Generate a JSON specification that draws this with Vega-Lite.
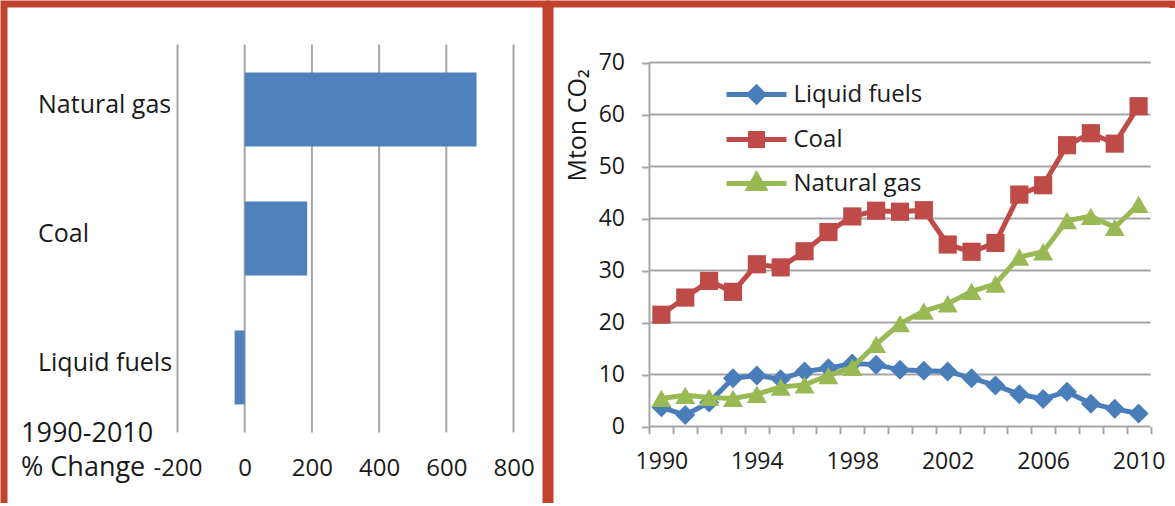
{
  "$schema": "https://vega.github.io/schema/vega-lite/v6.json",
  "padding": 0,
  "background": "white",
  "spacing": -4,
  "resolve": {
    "scale": {"fill": "independent", "stroke": "independent", "shape": "independent"},
    "legend": {"fill": "independent", "stroke": "independent", "shape": "independent"}
  },
  "datasets": {
    "change": [
      {"fuel": "Natural gas", "change": 690},
      {"fuel": "Coal", "change": 186},
      {"fuel": "Liquid fuels", "change": -30}
    ],
    "pctGrid": [{"pct": -200}, {"pct": 0}, {"pct": 200}, {"pct": 400}, {"pct": 600}, {"pct": 800}],
    "mtGrid": [{"v": 0}, {"v": 10}, {"v": 20}, {"v": 30}, {"v": 40}, {"v": 50}, {"v": 60}, {"v": 70}],
    "co2": [
      {"year": 1990, "fuel": "Liquid fuels", "value": 3.7}, {"year": 1990, "fuel": "Coal", "value": 21.5}, {"year": 1990, "fuel": "Natural gas", "value": 5.4},
      {"year": 1991, "fuel": "Liquid fuels", "value": 2.2}, {"year": 1991, "fuel": "Coal", "value": 24.8}, {"year": 1991, "fuel": "Natural gas", "value": 6.0},
      {"year": 1992, "fuel": "Liquid fuels", "value": 4.6}, {"year": 1992, "fuel": "Coal", "value": 28.0}, {"year": 1992, "fuel": "Natural gas", "value": 5.6},
      {"year": 1993, "fuel": "Liquid fuels", "value": 9.3}, {"year": 1993, "fuel": "Coal", "value": 25.9}, {"year": 1993, "fuel": "Natural gas", "value": 5.4},
      {"year": 1994, "fuel": "Liquid fuels", "value": 9.8}, {"year": 1994, "fuel": "Coal", "value": 31.2}, {"year": 1994, "fuel": "Natural gas", "value": 6.2},
      {"year": 1995, "fuel": "Liquid fuels", "value": 9.1}, {"year": 1995, "fuel": "Coal", "value": 30.6}, {"year": 1995, "fuel": "Natural gas", "value": 7.6},
      {"year": 1996, "fuel": "Liquid fuels", "value": 10.6}, {"year": 1996, "fuel": "Coal", "value": 33.7}, {"year": 1996, "fuel": "Natural gas", "value": 8.0},
      {"year": 1997, "fuel": "Liquid fuels", "value": 11.2}, {"year": 1997, "fuel": "Coal", "value": 37.4}, {"year": 1997, "fuel": "Natural gas", "value": 9.8},
      {"year": 1998, "fuel": "Liquid fuels", "value": 12.1}, {"year": 1998, "fuel": "Coal", "value": 40.4}, {"year": 1998, "fuel": "Natural gas", "value": 11.4},
      {"year": 1999, "fuel": "Liquid fuels", "value": 11.9}, {"year": 1999, "fuel": "Coal", "value": 41.5}, {"year": 1999, "fuel": "Natural gas", "value": 15.8},
      {"year": 2000, "fuel": "Liquid fuels", "value": 10.9}, {"year": 2000, "fuel": "Coal", "value": 41.3}, {"year": 2000, "fuel": "Natural gas", "value": 19.8},
      {"year": 2001, "fuel": "Liquid fuels", "value": 10.7}, {"year": 2001, "fuel": "Coal", "value": 41.6}, {"year": 2001, "fuel": "Natural gas", "value": 22.2},
      {"year": 2002, "fuel": "Liquid fuels", "value": 10.6}, {"year": 2002, "fuel": "Coal", "value": 35.0}, {"year": 2002, "fuel": "Natural gas", "value": 23.6},
      {"year": 2003, "fuel": "Liquid fuels", "value": 9.3}, {"year": 2003, "fuel": "Coal", "value": 33.6}, {"year": 2003, "fuel": "Natural gas", "value": 26.0},
      {"year": 2004, "fuel": "Liquid fuels", "value": 7.9}, {"year": 2004, "fuel": "Coal", "value": 35.3}, {"year": 2004, "fuel": "Natural gas", "value": 27.4},
      {"year": 2005, "fuel": "Liquid fuels", "value": 6.2}, {"year": 2005, "fuel": "Coal", "value": 44.6}, {"year": 2005, "fuel": "Natural gas", "value": 32.6},
      {"year": 2006, "fuel": "Liquid fuels", "value": 5.3}, {"year": 2006, "fuel": "Coal", "value": 46.4}, {"year": 2006, "fuel": "Natural gas", "value": 33.6},
      {"year": 2007, "fuel": "Liquid fuels", "value": 6.7}, {"year": 2007, "fuel": "Coal", "value": 54.1}, {"year": 2007, "fuel": "Natural gas", "value": 39.6},
      {"year": 2008, "fuel": "Liquid fuels", "value": 4.4}, {"year": 2008, "fuel": "Coal", "value": 56.4}, {"year": 2008, "fuel": "Natural gas", "value": 40.4},
      {"year": 2009, "fuel": "Liquid fuels", "value": 3.4}, {"year": 2009, "fuel": "Coal", "value": 54.4}, {"year": 2009, "fuel": "Natural gas", "value": 38.3},
      {"year": 2010, "fuel": "Liquid fuels", "value": 2.5}, {"year": 2010, "fuel": "Coal", "value": 61.6}, {"year": 2010, "fuel": "Natural gas", "value": 42.7}
    ]
  },
  "config": {
    "font": "Open Sans",
    "view": {"stroke": null},
    "axis": {"labelColor": "#1a1a1a", "titleColor": "#1a1a1a", "labelFont": "Open Sans", "titleFont": "Open Sans"},
    "legend": {
      "padding": 0, "symbolOpacity": 1,
      "symbolSize": 2500, "symbolStrokeWidth": 5, "labelFont": "Open Sans", "labelFontSize": 24,
      "labelColor": "#1a1a1a", "rowPadding": -22.5, "labelOffset": 9.5, "labelLimit": 400
    }
  },
  "hconcat": [
    {
      "width": 542,
      "height": 499,
      "view": {"stroke": "#C1432D", "strokeWidth": 7, "strokeDash": [1041, 542, 510], "fill": "white"},
      "layer": [
        {
          "data": {"name": "pctGrid"},
          "mark": {"type": "rule", "color": "#A6A6A6", "strokeWidth": 2},
          "encoding": {
            "x": {
              "field": "pct", "type": "quantitative",
              "scale": {"domain": [-716.4, 896.7], "nice": false, "zero": false},
              "axis": {
                "orient": "bottom", "offset": -70.5, "values": [-200, 0, 200, 400, 600, 800],
                "grid": false, "domain": false, "ticks": false, "tickSize": 0,
                "labelPadding": 43, "labelBaseline": "alphabetic", "labelFontSize": 24,
                "labelFlush": false, "labelOverlap": false, "labelExpr": "replace(datum.label, '−', '-')",
                "title": ["1990-2010", "% Change"], "titleX": 16.5, "titleY": 9,
                "titleAlign": "left", "titleAnchor": "start", "titleBaseline": "alphabetic",
                "titleFontSize": 27, "titleFontWeight": "normal", "titleLineHeight": 34
              }
            },
            "y": {"datum": 0, "type": "quantitative", "scale": {"domain": [-0.313, 3.545], "reverse": true, "nice": false, "zero": false}, "axis": null},
            "y2": {"datum": 3}
          }
        },
        {
          "data": {"name": "change"},
          "mark": {"type": "bar", "color": "#4F81BD"},
          "encoding": {
            "x": {
              "field": "change", "type": "quantitative",
              "axis": {
                "orient": "bottom", "offset": -70.5, "values": [-200, 0, 200, 400, 600, 800],
                "grid": false, "domain": false, "ticks": false, "tickSize": 0,
                "labelPadding": 43, "labelBaseline": "alphabetic", "labelFontSize": 24,
                "labelFlush": false, "labelOverlap": false, "labelExpr": "replace(datum.label, '−', '-')",
                "title": ["1990-2010", "% Change"], "titleX": 16.5, "titleY": 9,
                "titleAlign": "left", "titleAnchor": "start", "titleBaseline": "alphabetic",
                "titleFontSize": 27, "titleFontWeight": "normal", "titleLineHeight": 34
              }
            },
            "y": {
              "field": "fuel", "type": "nominal", "sort": ["Natural gas", "Coal", "Liquid fuels"],
              "scale": {"paddingInner": 0.4264, "paddingOuter": 0.6473, "align": 0.41},
              "axis": {
                "orient": "left", "offset": -33.5, "domain": false, "ticks": false, "tickSize": 0,
                "labelPadding": 0, "labelAlign": "left", "labelBaseline": "alphabetic", "labelOffset": 4,
                "labelFontSize": 25, "labelLimit": 300, "title": null
              }
            }
          }
        }
      ],
      "resolve": {"scale": {"y": "independent"}}
    },
    {
      "width": 623,
      "height": 499,
      "view": {"stroke": "#C1432D", "strokeWidth": 7, "strokeDash": [627, 1118, 510], "fill": "white"},
      "layer": [
        {
          "data": {"name": "mtGrid"},
          "mark": {"type": "rule", "color": "#A6A6A6", "strokeWidth": 2},
          "encoding": {
            "y": {
              "field": "v", "type": "quantitative",
              "scale": {"domain": [-14.71, 81.25], "nice": false, "zero": false},
              "axis": {
                "orient": "left", "offset": -99.5, "values": [0, 10, 20, 30, 40, 50, 60, 70],
                "domain": false, "grid": false, "ticks": true, "tickSize": 8, "tickColor": "#A6A6A6", "tickWidth": 2,
                "labelPadding": 17, "labelFontSize": 23,
                "title": "Mton CO₂", "titleFontSize": 25, "titleFontWeight": "normal",
                "titleX": -64, "titleY": 121, "titleAngle": -90, "titleAlign": "center", "titleBaseline": "alphabetic"
              }
            },
            "x": {
              "datum": 1989.5, "type": "quantitative",
              "scale": {"domain": [1985.331, 2011.442], "nice": false, "zero": false},
              "axis": {
                "orient": "bottom", "offset": -76.5,
                "values": [1989.5, 1990.5, 1991.5, 1992.5, 1993.5, 1994.5, 1995.5, 1996.5, 1997.5, 1998.5, 1999.5, 2000.5, 2001.5, 2002.5, 2003.5, 2004.5, 2005.5, 2006.5, 2007.5, 2008.5, 2009.5, 2010.5],
                "labels": false, "domain": false, "grid": false, "ticks": true, "tickSize": 7,
                "tickColor": "#A6A6A6", "tickWidth": 2, "title": null
              }
            },
            "x2": {"datum": 2010.5}
          }
        },
        {
          "data": {"values": [{}]},
          "mark": {"type": "rule", "color": "#A6A6A6", "strokeWidth": 2},
          "encoding": {
            "x": {"datum": 1989.5, "type": "quantitative", "axis": null},
            "y": {
              "datum": 0, "type": "quantitative",
              "axis": {
                "orient": "left", "offset": -99.5, "values": [0, 10, 20, 30, 40, 50, 60, 70],
                "domain": false, "grid": false, "ticks": true, "tickSize": 8, "tickColor": "#A6A6A6", "tickWidth": 2,
                "labelPadding": 17, "labelFontSize": 23,
                "title": "Mton CO₂", "titleFontSize": 25, "titleFontWeight": "normal",
                "titleX": -64, "titleY": 121, "titleAngle": -90, "titleAlign": "center", "titleBaseline": "alphabetic"
              }
            },
            "y2": {"datum": 70}
          }
        },
        {
          "data": {"name": "co2"},
          "transform": [{"filter": {"field": "fuel", "equal": "Liquid fuels"}}],
          "mark": {"type": "line", "color": "#4A7EBB", "strokeWidth": 5, "point": {"shape": "diamond", "size": 400, "filled": true, "color": "#4A7EBB"}},
          "encoding": {
            "x": {
              "field": "year", "type": "quantitative",
              "axis": {
                "orient": "bottom", "offset": -76.5, "values": [1990, 1994, 1998, 2002, 2006, 2010], "format": "d",
                "ticks": false, "tickSize": 0, "domain": false, "grid": false,
                "labelPadding": 42, "labelBaseline": "alphabetic", "labelFontSize": 23, "labelFlush": false, "title": null
              }
            },
            "y": {
              "field": "value", "type": "quantitative",
              "axis": {
                "orient": "left", "offset": -99.5, "values": [0, 10, 20, 30, 40, 50, 60, 70],
                "domain": false, "grid": false, "ticks": true, "tickSize": 8, "tickColor": "#A6A6A6", "tickWidth": 2,
                "labelPadding": 17, "labelFontSize": 23,
                "title": "Mton CO₂", "titleFontSize": 25, "titleFontWeight": "normal",
                "titleX": -64, "titleY": 121, "titleAngle": -90, "titleAlign": "center", "titleBaseline": "alphabetic"
              }
            }
          }
        },
        {
          "data": {"name": "co2"},
          "transform": [{"filter": {"field": "fuel", "equal": "Coal"}}],
          "mark": {"type": "line", "color": "#BE4B48", "strokeWidth": 5, "point": {"shape": "square", "size": 330, "filled": true, "color": "#BE4B48"}},
          "encoding": {
            "x": {"field": "year", "type": "quantitative", "axis": null},
            "y": {
              "field": "value", "type": "quantitative",
              "axis": {
                "orient": "left", "offset": -99.5, "values": [0, 10, 20, 30, 40, 50, 60, 70],
                "domain": false, "grid": false, "ticks": true, "tickSize": 8, "tickColor": "#A6A6A6", "tickWidth": 2,
                "labelPadding": 17, "labelFontSize": 23,
                "title": "Mton CO₂", "titleFontSize": 25, "titleFontWeight": "normal",
                "titleX": -64, "titleY": 121, "titleAngle": -90, "titleAlign": "center", "titleBaseline": "alphabetic"
              }
            }
          }
        },
        {
          "data": {"name": "co2"},
          "transform": [{"filter": {"field": "fuel", "equal": "Natural gas"}}],
          "mark": {"type": "line", "color": "#98B954", "strokeWidth": 5, "point": {"shape": "triangle-up", "size": 400, "filled": true, "color": "#98B954"}},
          "encoding": {
            "x": {"field": "year", "type": "quantitative", "axis": null},
            "y": {
              "field": "value", "type": "quantitative",
              "axis": {
                "orient": "left", "offset": -99.5, "values": [0, 10, 20, 30, 40, 50, 60, 70],
                "domain": false, "grid": false, "ticks": true, "tickSize": 8, "tickColor": "#A6A6A6", "tickWidth": 2,
                "labelPadding": 17, "labelFontSize": 23,
                "title": "Mton CO₂", "titleFontSize": 25, "titleFontWeight": "normal",
                "titleX": -64, "titleY": 121, "titleAngle": -90, "titleAlign": "center", "titleBaseline": "alphabetic"
              }
            }
          }
        },
        {
          "data": {"name": "co2"},
          "mark": {"type": "point", "filled": true, "opacity": 0},
          "encoding": {
            "x": {"field": "year", "type": "quantitative", "axis": null},
            "y": {
              "field": "value", "type": "quantitative",
              "axis": {
                "orient": "left", "offset": -99.5, "values": [0, 10, 20, 30, 40, 50, 60, 70],
                "domain": false, "grid": false, "ticks": true, "tickSize": 8, "tickColor": "#A6A6A6", "tickWidth": 2,
                "labelPadding": 17, "labelFontSize": 23,
                "title": "Mton CO₂", "titleFontSize": 25, "titleFontWeight": "normal",
                "titleX": -64, "titleY": 121, "titleAngle": -90, "titleAlign": "center", "titleBaseline": "alphabetic"
              }
            },
            "fill": {
              "field": "fuel", "type": "nominal",
              "scale": {"domain": ["Liquid fuels", "Coal", "Natural gas"], "range": ["#4A7EBB", "#BE4B48", "#98B954"]},
              "legend": {"title": null, "orient": "none", "legendX": 179, "legendY": 63, "symbolOpacity": 1}
            },
            "stroke": {
              "field": "fuel", "type": "nominal",
              "scale": {"domain": ["Liquid fuels", "Coal", "Natural gas"], "range": ["#4A7EBB", "#BE4B48", "#98B954"]},
              "legend": {"title": null, "orient": "none", "legendX": 179, "legendY": 63, "symbolOpacity": 1}
            },
            "shape": {
              "field": "fuel", "type": "nominal",
              "scale": {"domain": ["Liquid fuels", "Coal", "Natural gas"], "range": [
                "M-1.2,0H1.2M0,-0.29L0.29,0L0,0.29L-0.29,0Z",
                "M-1.2,0H1.2M-0.24,-0.24H0.24V0.24H-0.24Z",
                "M-1.2,0H1.2M0,-0.34L0.31,0.2H-0.31Z"
              ]},
              "legend": {"title": null, "orient": "none", "legendX": 179, "legendY": 63, "symbolOpacity": 1}
            }
          }
        }
      ],
      "resolve": {"axis": {"x": "independent"}}
    }
  ]
}
